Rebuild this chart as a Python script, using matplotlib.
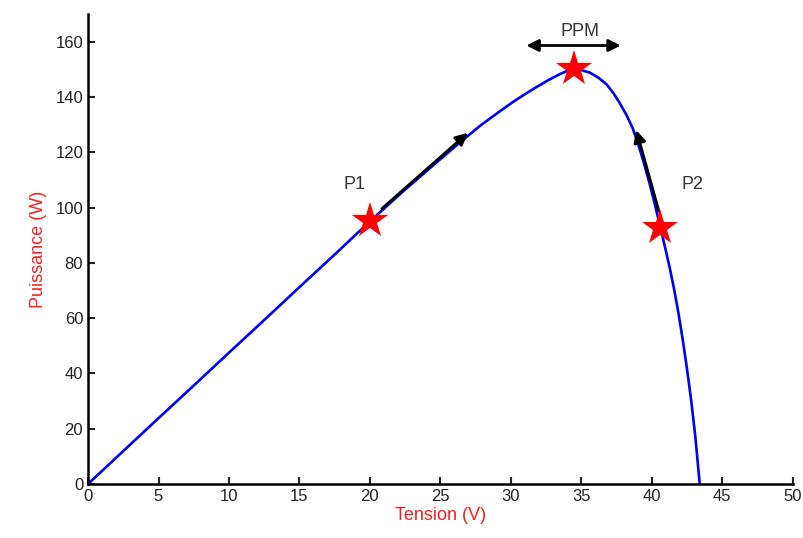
import matplotlib.pyplot as plt

plt.rcParams['font.family'] = ['Liberation Sans', 'DejaVu Sans']

# P-V curve
tension = [0, 2.5, 5, 7.5, 10, 12.5, 15, 17.5, 20, 22.5, 25, 26.5, 27.8, 29, 30.1, 31,
           31.8, 32.7, 33.5, 34, 34.5, 35, 35.6, 36.2, 36.8, 37.3, 37.7, 38.2, 38.65, 39.0,
           39.4, 39.8, 40.2, 40.6, 41.0, 41.3, 41.6, 41.9, 42.2, 42.5, 42.8, 43.1, 43.4]
puissance = [0, 11.9, 23.8, 35.6, 47.5, 59.3, 71.2, 83.0, 95.0, 106.5, 117.5, 124.0, 129.5,
             134.0, 138.0, 141.0, 143.5, 146.2, 148.3, 149.4, 150.0, 149.7, 148.8, 147.0,
             144.5, 141.2, 138.0, 133.5, 128.6, 123.5, 116.8, 109.5, 101.5, 93.0, 84.3,
             77.5, 70.0, 61.5, 52.0, 41.5, 30.0, 16.5, 0]

# operating points
pts_v = [20.0, 34.5, 40.6]
pts_p = [95.0, 150.0, 92.5]

x_ticks = [0, 5, 10, 15, 20, 25, 30, 35, 40, 45, 50]
y_ticks = [0, 20, 40, 60, 80, 100, 120, 140, 160]

fig = plt.figure(figsize=(8.04, 5.38), dpi=100)
ax = fig.add_axes([0.1095, 0.1004, 0.8765, 0.8736])

ax.plot(tension, puissance, color='#0000ee', lw=1.9, zorder=2)
ax.plot(pts_v, pts_p, ls='none', marker='*', markersize=27, color='#ff0000',
        markeredgewidth=0, zorder=4)

arrow = dict(arrowstyle='-|>', color='black', lw=2, mutation_scale=18, shrinkA=0, shrinkB=0)
ax.annotate('', xy=(26.95, 127.0), xytext=(20.85, 99.6), arrowprops=arrow, zorder=3)
ax.annotate('', xy=(38.9, 128.0), xytext=(40.5, 98.7), arrowprops=arrow, zorder=3)
ax.annotate('', xy=(37.8, 158.6), xytext=(31.1, 158.6),
            arrowprops=dict(arrowstyle='<|-|>', color='black', lw=2, mutation_scale=18,
                            shrinkA=0, shrinkB=0))

ax.text(34.9, 163.5, 'PPM', ha='center', va='center', fontsize=13, color='#333333')
ax.text(18.9, 108.5, 'P1', ha='center', va='center', fontsize=13, color='#333333')
ax.text(42.9, 108.5, 'P2', ha='center', va='center', fontsize=13, color='#333333')

ax.set_xlim(0, 50)
ax.set_ylim(0, 170)
ax.set_xticks(x_ticks)
ax.set_yticks(y_ticks)
ax.tick_params(direction='in', length=5, width=1.5, labelsize=12, colors='#222222')
for s in ['top', 'right']:
    ax.spines[s].set_visible(False)
for s in ['left', 'bottom']:
    ax.spines[s].set_linewidth(1.8)

ax.set_xlabel('Tension (V)', color='#ee2222', fontsize=13, labelpad=2)
ax.set_ylabel('Puissance (W)', color='#ee2222', fontsize=13, labelpad=6)

fig.savefig('out.png', dpi=100)
